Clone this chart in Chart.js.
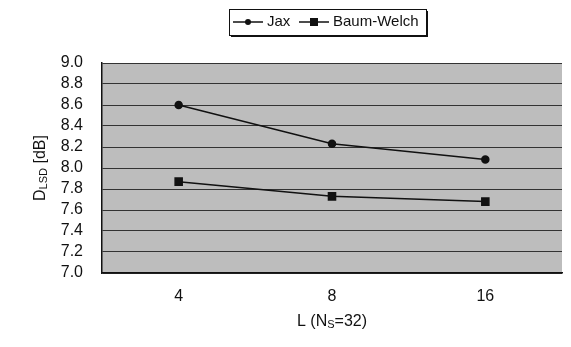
<!DOCTYPE html>
<html>
<head>
<meta charset="utf-8">
<script src="https://cdn.jsdelivr.net/npm/chart.js@4"></script>
<style>
  html, body { margin: 0; padding: 0; background: #fff; }
  #wrap { width: 571px; height: 347px; }
</style>
</head>
<body>
<div id="wrap"><canvas id="grafica" width="571" height="347"></canvas></div>
<script>
const categorias = ["4", "8", "16"];
const jax = [8.60, 8.23, 8.08];
const baumWelch = [7.87, 7.73, 7.68];
const nombres = ["Jax", "Baum-Welch"];

const fuente = "'Liberation Sans', Arial, sans-serif";

// fondo gris del area de la grafica
const fondo = {
    id: 'fondo',
    beforeDraw(chart) {
        const { ctx, chartArea: a } = chart;
        ctx.save();
        ctx.fillStyle = '#bdbdbd';
        ctx.fillRect(a.left, a.top, a.right - a.left, a.bottom - a.top);
        ctx.restore();
    }
};

// titulos con subindices y leyenda con caja
const extras = {
    id: 'extras',
    afterDraw(chart) {
        const ctx = chart.ctx;
        const a = chart.chartArea;
        ctx.save();
        ctx.fillStyle = '#111';
        ctx.textBaseline = 'middle';

        // titulo eje y: D_LSD [dB]
        ctx.save();
        ctx.translate(41, (a.top + a.bottom) / 2);
        ctx.rotate(-Math.PI / 2);
        const p1 = 'D', p2 = 'LSD', p3 = ' [dB]';
        ctx.font = '16px ' + fuente;
        const w1 = ctx.measureText(p1).width, w3 = ctx.measureText(p3).width;
        ctx.font = '11px ' + fuente;
        const w2 = ctx.measureText(p2).width;
        let x = -(w1 + w2 + w3) / 2;
        ctx.textAlign = 'left';
        ctx.font = '16px ' + fuente;
        ctx.fillText(p1, x, 0); x += w1;
        ctx.font = '11px ' + fuente;
        ctx.fillText(p2, x, 3); x += w2;
        ctx.font = '16px ' + fuente;
        ctx.fillText(p3, x, 0);
        ctx.restore();

        // titulo eje x: L (N_S=32)
        const q1 = 'L (N', q2 = 'S', q3 = '=32)';
        ctx.font = '16px ' + fuente;
        const v1 = ctx.measureText(q1).width, v3 = ctx.measureText(q3).width;
        ctx.font = '11px ' + fuente;
        const v2 = ctx.measureText(q2).width;
        let xx = (a.left + a.right) / 2 - (v1 + v2 + v3) / 2;
        const yy = 322;
        ctx.textAlign = 'left';
        ctx.font = '16px ' + fuente;
        ctx.fillText(q1, xx, yy); xx += v1;
        ctx.font = '11px ' + fuente;
        ctx.fillText(q2, xx, yy + 3); xx += v2;
        ctx.font = '16px ' + fuente;
        ctx.fillText(q3, xx, yy);

        // leyenda
        ctx.strokeStyle = '#111';
        ctx.lineWidth = 1;
        ctx.strokeRect(229.5, 9.5, 197, 26);
        ctx.lineWidth = 2;
        ctx.beginPath();
        ctx.moveTo(427, 11); ctx.lineTo(427, 36); ctx.lineTo(231, 36);
        ctx.stroke();
        const ly = 22;
        const items = [
            { x0: 233, x1: 263, txt: 267, tipo: 'circle' },
            { x0: 299, x1: 329, txt: 333, tipo: 'rect' }
        ];
        items.forEach((it, i) => {
            ctx.lineWidth = 1.5;
            ctx.beginPath();
            ctx.moveTo(it.x0, ly); ctx.lineTo(it.x1, ly);
            ctx.stroke();
            const cx = (it.x0 + it.x1) / 2;
            ctx.beginPath();
            if (it.tipo === 'circle') {
                ctx.arc(cx, ly, 3, 0, Math.PI * 2);
                ctx.fill();
            } else {
                ctx.fillRect(cx - 4, ly - 4, 8, 8);
            }
            ctx.font = '15px ' + fuente;
            ctx.fillText(nombres[i], it.txt, ly);
        });
        ctx.restore();
    }
};

new Chart(document.getElementById('grafica'), {
    type: 'line',
    data: {
        labels: categorias,
        datasets: [{
            label: nombres[0],
            data: jax,
            borderColor: '#111',
            backgroundColor: '#111',
            borderWidth: 1.5,
            pointStyle: 'circle',
            pointRadius: 3.5,
            tension: 0
        }, {
            label: nombres[1],
            data: baumWelch,
            borderColor: '#111',
            backgroundColor: '#111',
            borderWidth: 1.5,
            pointStyle: 'rect',
            pointRadius: 5,
            tension: 0
        }]
    },
    options: {
        responsive: false,
        animation: false,
        layout: { padding: { left: 0, top: 63, right: 9, bottom: 0 } },
        plugins: {
            legend: { display: false },
            tooltip: { enabled: false }
        },
        scales: {
            x: {
                offset: true,
                grid: { display: false, drawTicks: false },
                border: { color: '#111', width: 1.5 },
                ticks: { color: '#111', font: { family: fuente, size: 16 }, padding: 14 },
                afterFit(s) { s.height = 74; }
            },
            y: {
                min: 7.0,
                max: 9.0,
                grid: { color: '#333', lineWidth: 1, drawTicks: false },
                border: { color: '#111', width: 1.5 },
                ticks: {
                    stepSize: 0.2,
                    autoSkip: false,
                    color: '#111',
                    font: { family: fuente, size: 16 },
                    padding: 19,
                    callback: v => v.toFixed(1)
                },
                afterFit(s) { s.width = 102; }
            }
        }
    },
    plugins: [fondo, extras]
});
</script>
</body>
</html>
